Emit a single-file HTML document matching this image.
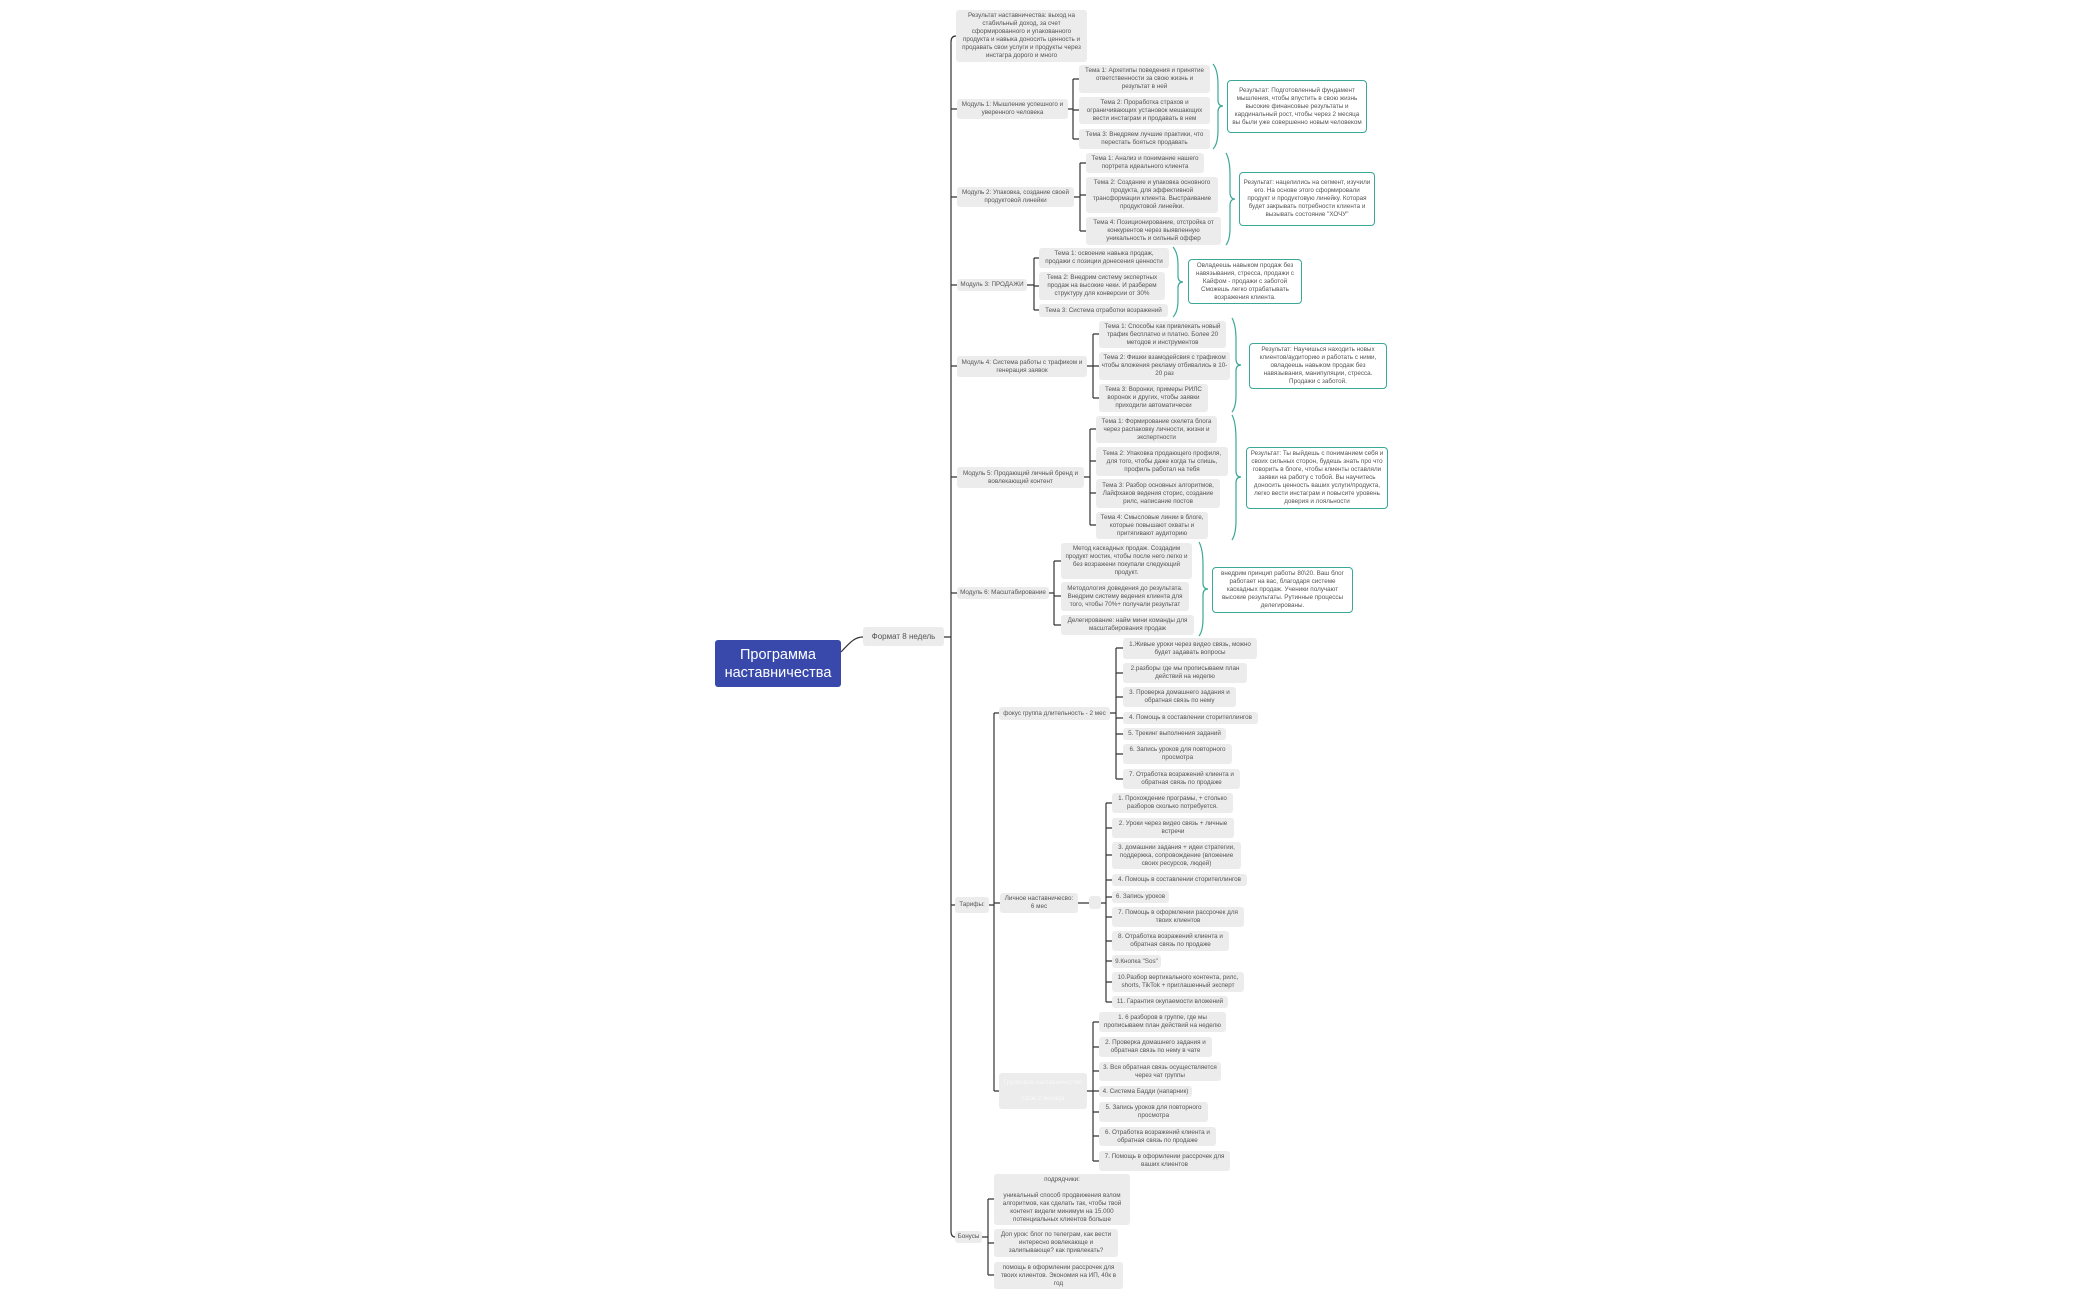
<!DOCTYPE html>
<html><head><meta charset="utf-8">
<style>
html,body{margin:0;padding:0;background:#fff;}
body{width:2100px;height:1300px;position:relative;overflow:hidden;font-family:"Liberation Sans","Noto Sans CJK SC",sans-serif;}
.b{position:absolute;display:flex;align-items:center;justify-content:center;text-align:center;font-size:6.3px;line-height:8px;color:#555;background:#ececec;border-radius:3px;box-sizing:border-box;padding:0 2px;overflow:hidden;}
.g{position:absolute;display:flex;align-items:center;justify-content:center;text-align:center;font-size:6.3px;line-height:8px;color:#555;background:#fff;border:1.5px solid #3aa897;border-radius:4px;box-sizing:border-box;padding:0 3px;}
.root{position:absolute;left:715px;top:640px;width:126px;height:47px;background:#3949ab;border-radius:3px;color:#fff;font-size:14.5px;line-height:18px;display:flex;align-items:center;justify-content:center;text-align:center;}
svg{position:absolute;left:0;top:0;}
</style></head><body>
<svg width="2100" height="1300" fill="none">
<g stroke="#333" stroke-width="1.2">
<path d="M841,652 C852,640 856,637 863,637"/>
<path d="M944,637 H951 M951,42 V1231 M951,42 Q951,36 956,36 M951,1231 Q951,1237 955,1237 M951,109 H957 M951,197 H957 M951,285 H957 M951,366 H957 M951,477 H957 M951,593 H957 M951,905 H955"/>
<path d="M1068,109 H1073 M1073,79 V139 M1073,79 H1079 M1073,110 H1079 M1073,139 H1079"/>
<path d="M1074,197 H1080 M1080,163 V231 M1080,163 H1086 M1080,195 H1086 M1080,231 H1086"/>
<path d="M1027,285 H1034 M1034,258 V310 M1034,258 H1039 M1034,286 H1039 M1034,310 H1039"/>
<path d="M1087,366 H1093 M1093,334 V398 M1093,334 H1099 M1093,366 H1099 M1093,398 H1099"/>
<path d="M1084,477 H1090 M1090,429 V525 M1090,429 H1096 M1090,461 H1096 M1090,493 H1096 M1090,525 H1096"/>
<path d="M1049,593 H1054 M1054,561 V625 M1054,561 H1061 M1054,596 H1061 M1054,625 H1061"/>
<path d="M989,905 H994 M994,713 V1091 M994,713 H999 M994,903 H1000 M994,1091 H999"/>
<path d="M1110,713 H1116 M1116,648 V779 M1116,648 H1123 M1116,673 H1123 M1116,697 H1123 M1116,718 H1123 M1116,734 H1123 M1116,754 H1123 M1116,779 H1123"/>
<path d="M1078,903 H1089 M1101,903 H1106 M1106,803 V1002 M1106,803 H1112 M1106,828 H1112 M1106,855 H1112 M1106,880 H1112 M1106,897 H1112 M1106,917 H1112 M1106,941 H1112 M1106,961 H1112 M1106,982 H1112 M1106,1002 H1112"/>
<path d="M1087,1091 H1093 M1093,1022 V1161 M1093,1022 H1099 M1093,1047 H1099 M1093,1071 H1099 M1093,1091 H1099 M1093,1112 H1099 M1093,1136 H1099 M1093,1161 H1099"/>
<path d="M982,1237 H988 M988,1199 V1275 M988,1199 H994 M988,1243 H994 M988,1275 H994"/>
</g>
<g stroke="#3aa897" stroke-width="1.2">
<path d="M1213,64 Q1218,70 1218,85 V100 Q1218,106 1223,106 Q1218,106 1218,112 V130 Q1218,144 1213,149"/>
<path d="M1226,153 Q1230,160 1230,175 V192 Q1230,199 1235,199 Q1230,199 1230,206 V228 Q1230,240 1226,245"/>
<path d="M1173,247 Q1178,253 1178,265 V276 Q1178,282 1183,282 Q1178,282 1178,288 V300 Q1178,312 1173,317"/>
<path d="M1232,318 Q1236,325 1236,340 V359 Q1236,365 1241,365 Q1236,365 1236,371 V395 Q1236,407 1232,412"/>
<path d="M1232,415 Q1236,422 1236,440 V471 Q1236,477 1241,477 Q1236,477 1236,483 V520 Q1236,534 1232,540"/>
<path d="M1199,542 Q1203,549 1203,565 V583 Q1203,589 1208,589 Q1203,589 1203,595 V618 Q1203,631 1199,636"/>
</g>
</svg>

<div class="root">Программа<br>наставничества</div>
<div class="b" style="left:863px;top:627px;width:81px;height:19px;font-size:8px;">Формат 8 недель</div>

<div class="b" style="left:956px;top:10px;width:131px;height:52px;">Результат наставничества: выход на стабильный доход, за счет сформированного и упакованного продукта и навыка доносить ценность и продавать свои услуги и продукты через инстагра дорого и много</div>

<div class="b" style="left:957px;top:99px;width:111px;height:20px;">Модуль 1: Мышление успешного и уверенного человека</div>
<div class="b" style="left:1079px;top:65px;width:131px;height:28px;">Тема 1: Архетипы поведения и принятие ответственности за свою жизнь и результат в ней</div>
<div class="b" style="left:1079px;top:97px;width:131px;height:27px;">Тема 2: Проработка страхов и ограничивающих установок мешающих вести инстаграм и продавать в нем</div>
<div class="b" style="left:1079px;top:129px;width:131px;height:20px;">Тема 3: Внедряем лучшие практики, что перестать бояться продавать</div>
<div class="g" style="left:1227px;top:80px;width:140px;height:53px;">Результат: Подготовленный фундамент мышления, чтобы впустить в свою жизнь высокие финансовые результаты и кардинальный рост, чтобы через 2 месяца вы были уже совершенно новым человеком</div>

<div class="b" style="left:957px;top:187px;width:117px;height:20px;">Модуль 2: Упаковка, создание своей продуктовой линейки</div>
<div class="b" style="left:1086px;top:153px;width:118px;height:20px;">Тема 1: Анализ и понимание нашего портрета идеального клиента</div>
<div class="b" style="left:1086px;top:177px;width:132px;height:36px;">Тема 2: Создание и упаковка основного продукта, для эффективной трансформации клиента. Выстраивание продуктовой линейки.</div>
<div class="b" style="left:1086px;top:217px;width:135px;height:28px;">Тема 4: Позиционирование, отстройка от конкурентов через выявленную уникальность и сильный оффер</div>
<div class="g" style="left:1239px;top:172px;width:136px;height:54px;">Результат: нацелились на сегмент, изучили его. На основе этого сформировали продукт и продуктовую линейку. Которая будет закрывать потребности клиента и вызывать состояние "ХОЧУ"</div>

<div class="b" style="left:957px;top:279px;width:70px;height:12px;">Модуль 3: ПРОДАЖИ</div>
<div class="b" style="left:1039px;top:248px;width:130px;height:20px;">Тема 1: освоение навыка продаж, продажи с позиции донесения ценности</div>
<div class="b" style="left:1039px;top:272px;width:126px;height:28px;">Тема 2: Внедрим систему экспертных продаж на высокие чеки. И разберем структуру для конверсии от 30%</div>
<div class="b" style="left:1039px;top:304px;width:129px;height:13px;">Тема 3: Система отработки возражений</div>
<div class="g" style="left:1188px;top:259px;width:114px;height:45px;">Овладеешь навыком продаж без навязывания, стресса, продажи с Кайфом - продажи с заботой Сможешь легко отрабатывать возражения клиента.</div>

<div class="b" style="left:957px;top:356px;width:130px;height:21px;">Модуль 4: Система работы с трафиком и генерация заявок</div>
<div class="b" style="left:1099px;top:321px;width:127px;height:27px;">Тема 1: Способы как привлекать новый трафик бесплатно и платно. Более 20 методов и инструментов</div>
<div class="b" style="left:1099px;top:352px;width:131px;height:28px;">Тема 2: Фишки взамодейсвия с трафиком чтобы вложения рекламу отбивались в 10-20 раз</div>
<div class="b" style="left:1099px;top:384px;width:109px;height:28px;">Тема 3: Воронки, примеры РИЛС воронок и других, чтобы заявки приходили автоматически</div>
<div class="g" style="left:1249px;top:343px;width:138px;height:46px;">Результат: Научишься находить новых клиентов/аудиторию и работать с ними, овладеешь навыком продаж без навязывания, манипуляции, стресса. Продажи с заботой.</div>

<div class="b" style="left:957px;top:467px;width:127px;height:21px;">Модуль 5: Продающий личный бренд и вовлекающий контент</div>
<div class="b" style="left:1096px;top:416px;width:121px;height:27px;">Тема 1: Формирование скелета блога через распаковку личности, жизни и экспертности</div>
<div class="b" style="left:1096px;top:447px;width:132px;height:29px;">Тема 2: Упаковка продающего профиля, для того, чтобы даже когда ты спишь, профиль работал на тебя</div>
<div class="b" style="left:1096px;top:479px;width:124px;height:29px;">Тема 3: Разбор основных алгоритмов, Лайфхаков ведения сторис, создание рилс, написание постов</div>
<div class="b" style="left:1096px;top:512px;width:112px;height:27px;">Тема 4: Смысловые линии в блоге, которые повышают охваты и притягивают аудиторию</div>
<div class="g" style="left:1246px;top:447px;width:142px;height:62px;">Результат: Ты выйдешь с пониманием себя и своих сильных сторон, будешь знать про что говорить в блоге, чтобы клиенты оставляли заявки на работу с тобой. Вы научитесь доносить ценность ваших услуги/продукта, легко вести инстаграм и повысите уровень доверия и лояльности</div>

<div class="b" style="left:957px;top:587px;width:92px;height:12px;">Модуль 6: Масштабирование</div>
<div class="b" style="left:1061px;top:543px;width:131px;height:36px;">Метод каскадных продаж. Создадим продукт мостик, чтобы после него легко и без возражени покупали следующий продукт.</div>
<div class="b" style="left:1061px;top:582px;width:128px;height:29px;">Методология доведения до результата. Внедрим систему ведения клиента для того, чтобы 70%+ получали результат</div>
<div class="b" style="left:1061px;top:615px;width:133px;height:20px;">Делегирование: найм мини команды для масштабирования продаж</div>
<div class="g" style="left:1212px;top:567px;width:141px;height:46px;">внедрим принцип работы 80\20. Ваш блог работает на вас, благодаря системе каскадных продаж. Ученики получают высокие результаты. Рутинные процессы делегированы.</div>

<div class="b" style="left:955px;top:897px;width:34px;height:16px;">Тарифы:</div>
<div class="b" style="left:999px;top:707px;width:111px;height:13px;">фокус группа длительность - 2 мес</div>
<div class="b" style="left:1123px;top:638px;width:134px;height:21px;">1.Живые уроки через видео связь, можно будет задавать вопросы</div>
<div class="b" style="left:1123px;top:663px;width:124px;height:20px;">2.разборы где мы прописываем план действий на неделю</div>
<div class="b" style="left:1123px;top:687px;width:113px;height:20px;">3. Проверка домашнего задания и обратная связь по нему</div>
<div class="b" style="left:1123px;top:712px;width:135px;height:12px;">4. Помощь в составлении сторителлингов</div>
<div class="b" style="left:1123px;top:728px;width:103px;height:12px;">5. Трекинг выполнения заданий</div>
<div class="b" style="left:1123px;top:744px;width:109px;height:20px;">6. Запись уроков для повторного просмотра</div>
<div class="b" style="left:1123px;top:769px;width:117px;height:20px;">7. Отработка возражений клиента и обратная связь по продаже</div>

<div class="b" style="left:1000px;top:893px;width:78px;height:20px;">Личное наставничесво:<br>6 мес</div>
<div class="b" style="left:1089px;top:896px;width:12px;height:13px;"></div>
<div class="b" style="left:1112px;top:793px;width:121px;height:20px;">1. Прохождение програмы, + столько разборов сколько потребуется.</div>
<div class="b" style="left:1112px;top:818px;width:122px;height:20px;">2. Уроки через видео связь + личные встречи</div>
<div class="b" style="left:1112px;top:842px;width:129px;height:27px;">3. домашнии задания + идеи стратегии, поддержка, сопровождение (вложение своих ресурсов, людей)</div>
<div class="b" style="left:1112px;top:874px;width:135px;height:12px;">4. Помощь в составлении сторителлингов</div>
<div class="b" style="left:1112px;top:891px;width:57px;height:12px;">6. Запись уроков</div>
<div class="b" style="left:1112px;top:907px;width:132px;height:20px;">7. Помощь в оформлении рассрочек для твоих клиентов</div>
<div class="b" style="left:1112px;top:931px;width:117px;height:20px;">8. Отработка возражений клиента и обратная связь по продаже</div>
<div class="b" style="left:1112px;top:955px;width:49px;height:13px;">9.Кнопка "Sos"</div>
<div class="b" style="left:1112px;top:972px;width:132px;height:20px;">10.Разбор вертикального контента, рилс, shorts, TikTok + приглашенный эксперт</div>
<div class="b" style="left:1112px;top:996px;width:116px;height:12px;">11. Гарантия окупаемости вложений</div>

<div class="b" style="left:999px;top:1073px;width:88px;height:36px;color:#f8f8f8;">Групповое наставничество<br><br>Срок 2 месяца</div>
<div class="b" style="left:1099px;top:1012px;width:127px;height:20px;">1. 6 разборов в группе, где мы прописываем план действий на неделю</div>
<div class="b" style="left:1099px;top:1037px;width:113px;height:20px;">2. Проверка домашнего задания и обратная связь по нему в чате</div>
<div class="b" style="left:1099px;top:1062px;width:122px;height:19px;">3. Вся обратная связь осуществляется через чат группы</div>
<div class="b" style="left:1099px;top:1086px;width:93px;height:11px;">4. Система Бадди (напарник)</div>
<div class="b" style="left:1099px;top:1102px;width:109px;height:20px;">5. Запись уроков для повторного просмотра</div>
<div class="b" style="left:1099px;top:1127px;width:117px;height:19px;">6. Отработка возражений клиента и обратная связь по продаже</div>
<div class="b" style="left:1099px;top:1151px;width:131px;height:20px;">7. Помощь в оформлении рассрочек для ваших клиентов</div>

<div class="b" style="left:955px;top:1231px;width:27px;height:12px;">Бонусы</div>
<div class="b" style="left:994px;top:1174px;width:136px;height:51px;">подрядчики:<br><br>уникальный способ продвижения взлом алгоритмов, как сделать так, чтобы твой контент видели минимум на 15.000 потенциальных клиентов больше</div>
<div class="b" style="left:994px;top:1229px;width:124px;height:28px;">Доп урок: блог по телеграм, как вести интересно вовлекающе и залипывающе? как привлекать?</div>
<div class="b" style="left:994px;top:1262px;width:129px;height:27px;">помощь в оформлении рассрочек для твоих клиентов. Экономия на ИП, 40к в год</div>
</body></html>
